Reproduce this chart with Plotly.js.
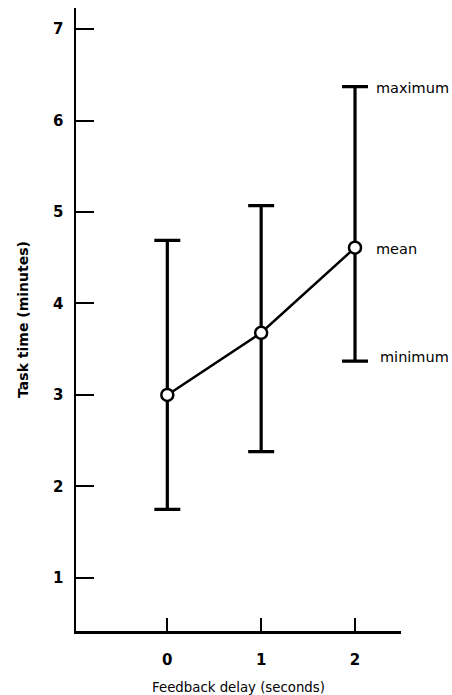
<!DOCTYPE html>
<html>
<head>
<meta charset="utf-8">
<script src="https://cdn.plot.ly/plotly-3.0.1.min.js"></script>
<style>html,body{margin:0;padding:0;background:#fff;}#chart{width:452px;height:695px;}</style>
</head>
<body>
<div id="chart"></div>
<script>
// Data
const delays = [0, 1, 2];
const meanTime = [3.00, 3.68, 4.61];
const maxTime = [4.69, 5.07, 6.37];
const minTime = [1.75, 2.38, 3.37];
const yTicks = [1, 2, 3, 4, 5, 6, 7];
const xTicks = [0, 1, 2];
const xTitle = 'Feedback delay (seconds)';
const yTitle = 'Task time (minutes)';
const labelTexts = ['maximum', 'mean', 'minimum'];

const last = delays.length - 1;
const errPlus = meanTime.map((m, i) => maxTime[i] - m);
const errMinus = meanTime.map((m, i) => m - minTime[i]);

const trace = {
  x: delays,
  y: meanTime,
  type: 'scatter',
  mode: 'lines+markers',
  line: {color: '#000', width: 2.5},
  marker: {symbol: 'circle', size: 12, color: '#fff', line: {color: '#000', width: 2.5}},
  error_y: {type: 'data', symmetric: false, array: errPlus, arrayminus: errMinus,
            color: '#000', thickness: 3.2, width: 13},
  cliponaxis: false,
  hoverinfo: 'skip'
};

const labelY = [maxTime[last], meanTime[last], minTime[last]];
const labelShift = [19, 19, 23];
const annotations = labelTexts.map((t, i) => ({
  x: delays[last], y: labelY[i], xref: 'x', yref: 'y',
  text: t, showarrow: false, xanchor: 'left', yanchor: 'middle',
  xshift: labelShift[i], yshift: i === 2 ? 4 : -1,
  font: {family: 'DejaVu Sans', size: 14.5, color: '#000'}
}));

const layout = {
  width: 452, height: 695,
  margin: {l: 76, r: 51, t: 8, b: 64},
  paper_bgcolor: '#fff', plot_bgcolor: '#fff',
  showlegend: false,
  xaxis: {
    range: [-0.973, 2.49], tickvals: xTicks, ticktext: xTicks.map(String),
    ticks: 'inside', ticklen: 13, tickwidth: 2, tickcolor: '#000',
    showline: true, linecolor: '#000', linewidth: 2.5, showgrid: false, zeroline: false,
    ticklabelstandoff: 13,
    tickfont: {family: 'DejaVu Sans', size: 15, color: '#000', weight: 'bold'},
    title: {text: xTitle, standoff: 17, font: {family: 'DejaVu Sans', size: 13.3, color: '#000'}},
    automargin: false, fixedrange: true
  },
  yaxis: {
    range: [0.42, 7.23], tickvals: yTicks, ticktext: yTicks.map(String),
    ticks: 'inside', ticklen: 18, tickwidth: 2, tickcolor: '#000',
    showline: true, linecolor: '#000', linewidth: 2.5, showgrid: false, zeroline: false,
    ticklabelstandoff: 7,
    tickfont: {family: 'DejaVu Sans', size: 15, color: '#000', weight: 'bold'},
    title: {text: yTitle, standoff: 21, font: {family: 'DejaVu Sans', size: 14, color: '#000', weight: 'bold'}},
    automargin: false, fixedrange: true
  },
  annotations: annotations
};

Plotly.newPlot('chart', [trace], layout, {displayModeBar: false, staticPlot: true});
</script>
</body>
</html>
